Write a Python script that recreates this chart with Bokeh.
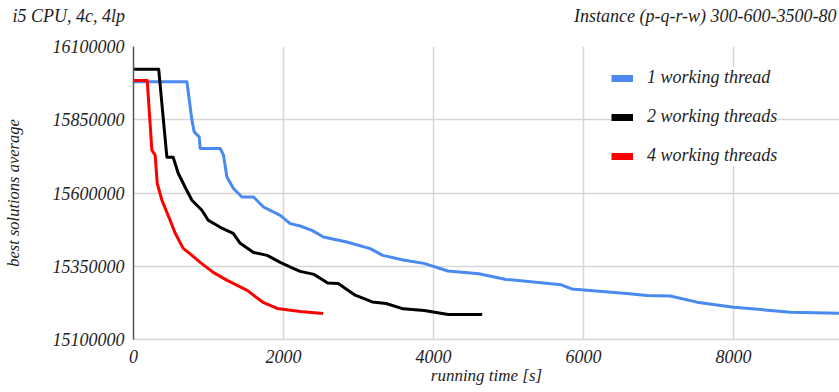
from bokeh.plotting import figure
from bokeh.layouts import column
from bokeh.models import Range1d, FixedTicker, NumeralTickFormatter, Label, Legend, LegendItem
from bokeh.embed import file_html
from bokeh.resources import INLINE

# running time [s] and best-solution averages
t_1 = [0, 712, 779, 809, 876, 889, 1156, 1200, 1245, 1333, 1445, 1600, 1733, 1956, 2089, 2222,
       2379, 2533, 2845, 3156, 3323, 3596, 3872, 4193, 4605, 4969, 5703, 5843, 6576, 6845,
       7156, 7512, 8000, 8756, 9409]
v_1 = [15979700, 15979700, 15848700, 15808700, 15791600, 15751900, 15751900, 15729000, 15654800,
       15615200, 15586500, 15586500, 15552300, 15523900, 15495500, 15487300, 15472600, 15449700,
       15432600, 15410000, 15387100, 15371400, 15359800, 15333800, 15324200, 15305100, 15286600,
       15272600, 15257200, 15250400, 15248700, 15227500, 15210400, 15193300, 15189900]

t_2 = [0, 336, 445, 529, 596, 689, 779, 912, 996, 1112, 1156, 1329, 1423, 1596, 1783, 1956, 2129,
       2222, 2409, 2589, 2729, 2956, 3183, 3369, 3596, 3876, 4196, 4649]
v_2 = [16022000, 16022000, 15722200, 15722200, 15667500, 15619600, 15575200, 15541000, 15506800,
       15489700, 15482900, 15462400, 15428300, 15397500, 15387200, 15363200, 15342700, 15332400,
       15322200, 15292800, 15291400, 15251400, 15228100, 15223000, 15204600, 15199100, 15185400,
       15185400]

t_4 = [0, 183, 245, 289, 316, 379, 489, 556, 663, 779, 889, 1063, 1249, 1516, 1729, 1916, 2222, 2529]
v_4 = [15983700, 15983700, 15746100, 15729000, 15633300, 15575200, 15506800, 15462400, 15411100,
       15387200, 15363200, 15329000, 15301700, 15267500, 15226500, 15206000, 15195700, 15188900]

series_names = ["1 working thread", "2 working threads", "4 working threads"]
x_ticks = [0, 2000, 4000, 6000, 8000]
y_ticks = [15100000, 15350000, 15600000, 15850000, 16100000]

title_left = "i5 CPU, 4c,  4lp"
title_right = "Instance (p-q-r-w) 300-600-3500-80"
x_label = "running time [s]"
y_label = "best solutions average"

FONT = "Liberation Serif"
GRID = "#d6d6d6"
TXT = "#1e1e1e"
COLORS = ["#4a89f0", "#000000", "#ff0000"]

# ---- header strip with the two caption texts (its frame is aligned with the chart frame)
head = figure(width=839, height=30, output_backend="svg", toolbar_location=None,
              x_axis_location=None, y_axis_location="left", min_border=0,
              x_range=Range1d(0, 1), y_range=Range1d(0, 1))
head.outline_line_color = None
head.grid.visible = False
head.yaxis.ticker = FixedTicker(ticks=[])
head.yaxis.axis_line_color = None
head.yaxis.major_tick_out = 0
head.yaxis.minor_tick_out = 0
head.yaxis.major_label_standoff = 0
head.yaxis.axis_label = title_left
head.yaxis.axis_label_orientation = "horizontal"
head.yaxis.axis_label_standoff = 4
head.yaxis.axis_label_text_font = FONT
head.yaxis.axis_label_text_font_style = "italic"
head.yaxis.axis_label_text_font_size = "18px"
head.yaxis.axis_label_text_color = TXT
head.add_layout(Label(x=703, y=15, x_units="screen", y_units="screen", text=title_right,
                      text_font=FONT, text_font_style="italic", text_font_size="18px",
                      text_color=TXT, text_baseline="middle", text_align="right"))

# ---- main chart
p = figure(width=839, height=362, output_backend="svg", toolbar_location=None,
           x_range=Range1d(0, 9413), y_range=Range1d(15100000, 16100000),
           min_border_left=133, min_border_right=0, min_border_top=16, min_border_bottom=53)
p.outline_line_color = None
p.background_fill_color = "white"
p.border_fill_color = "white"

for ax, ticks in ((p.xaxis, x_ticks), (p.yaxis, y_ticks)):
    ax.ticker = FixedTicker(ticks=ticks)
    ax.formatter = NumeralTickFormatter(format="0")
    ax.major_tick_in = 0
    ax.major_tick_out = 0
    ax.minor_tick_in = 0
    ax.minor_tick_out = 0
    ax.major_label_text_font = FONT
    ax.major_label_text_font_style = "italic"
    ax.major_label_text_font_size = "18px"
    ax.major_label_text_color = TXT
    ax.axis_label_text_font = FONT
    ax.axis_label_text_font_style = "italic"
    ax.axis_label_text_color = TXT

p.xaxis.axis_label = x_label
p.yaxis.axis_label = y_label
p.xaxis.axis_label_text_font_size = "17px"
p.yaxis.axis_label_text_font_size = "16.5px"
p.xaxis.axis_line_color = GRID
p.xaxis.axis_line_width = 1.5
p.yaxis.axis_line_color = "#555555"
p.yaxis.axis_line_width = 1.5
p.xaxis.major_label_standoff = 10
p.xaxis.axis_label_standoff = 0
p.yaxis.major_label_standoff = 9
p.yaxis.axis_label_standoff = 27

p.xgrid.ticker = FixedTicker(ticks=x_ticks)
p.ygrid.ticker = FixedTicker(ticks=y_ticks)
p.grid.grid_line_color = GRID
p.grid.grid_line_width = 1.5

series = [(t_1, v_1), (t_2, v_2), (t_4, v_4)]
items = []
nan = float("nan")
for (t, v), c, name in zip(series, COLORS, series_names):
    p.line(t, v, line_color=c, line_width=3, line_join="round")
    proxy = p.line([nan], [nan], line_color=c, line_width=7, line_cap="butt")
    items.append(LegendItem(label=name, renderers=[proxy]))

legend = Legend(items=items, location=(478, 173), background_fill_color="white",
                background_fill_alpha=1.0, border_line_color=None, padding=10,
                spacing=18, label_height=20, glyph_height=20, glyph_width=22,
                label_standoff=14, label_text_font=FONT, label_text_font_style="italic",
                label_text_font_size="18px", label_text_color=TXT, margin=0)
p.add_layout(legend, "center")

layout = column(head, p, spacing=0)
open("out.html", "w").write(file_html(layout, INLINE))
